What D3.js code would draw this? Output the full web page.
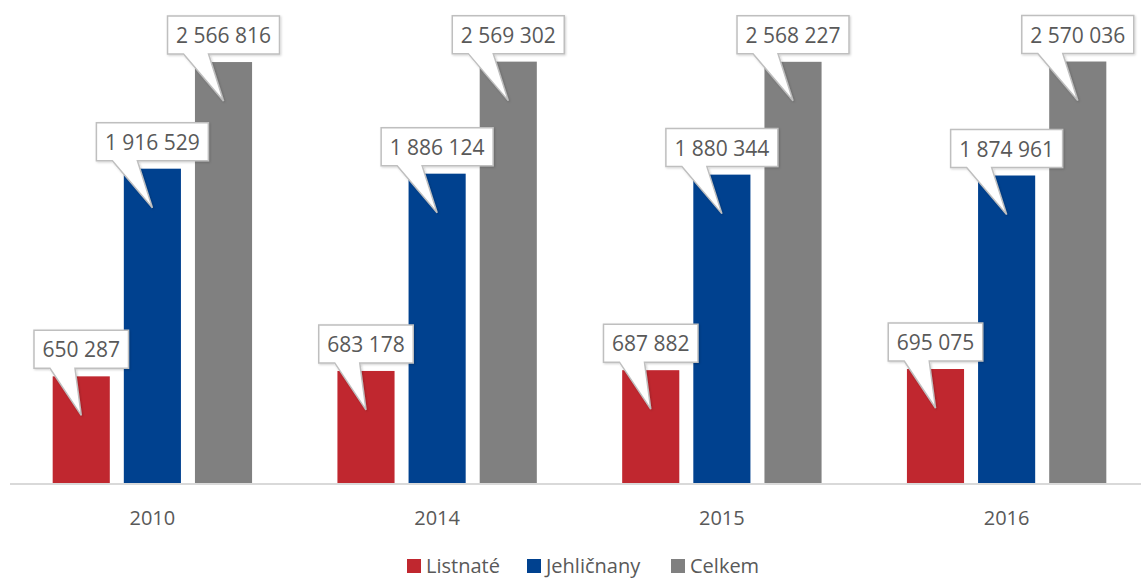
<!DOCTYPE html>
<html>
<head>
<meta charset="utf-8">
<script src="https://cdn.jsdelivr.net/npm/d3@7"></script>
<style>
  body { margin: 0; background: #fff; }
  text { font-family: "Open Sans", sans-serif; fill: #595959; }
</style>
</head>
<body>
<script>
var years = ["2010", "2014", "2015", "2016"];
var seriesNames = ["Listnaté", "Jehličnany", "Celkem"];
var listnate = [650287, 683178, 687882, 695075];
var jehlicnany = [1916529, 1886124, 1880344, 1874961];
var celkem = [2566816, 2569302, 2568227, 2570036];
var colors = ["#c0272f", "#00418f", "#808080"];

var width = 1141, height = 578;
var seriesValues = [listnate, jehlicnany, celkem];

var svg = d3.select("body").append("svg")
  .attr("width", width)
  .attr("height", height);

var defs = svg.append("defs");
var shadow = defs.append("filter").attr("id", "shadow")
  .attr("x", "-20%").attr("y", "-20%").attr("width", "140%").attr("height", "160%");
shadow.append("feDropShadow")
  .attr("dx", 1).attr("dy", 1).attr("stdDeviation", 1)
  .attr("flood-color", "#000").attr("flood-opacity", 0.18);

var x0 = d3.scaleBand().domain(years).range([10, 1149]).paddingInner(0).paddingOuter(0);
var x1 = d3.scaleBand().domain(seriesNames).range([0, x0.bandwidth()])
  .paddingInner(0.197).paddingOuter(0.6);
var y = d3.scaleLinear().domain([0, 3000000]).range([483, -9]);

var fmt = function(v) { return d3.format(",")(v).replace(/,/g, " "); };

// bars
var groups = svg.selectAll("g.year")
  .data(years)
  .enter().append("g")
  .attr("class", "year")
  .attr("transform", function(d) { return "translate(" + x0(d) + ",0)"; });

groups.selectAll("rect")
  .data(function(d, i) {
    return seriesNames.map(function(s, j) { return { s: s, j: j, v: seriesValues[j][i] }; });
  })
  .enter().append("rect")
  .attr("x", function(d) { return x1(d.s); })
  .attr("y", function(d) { return y(d.v); })
  .attr("width", x1.bandwidth())
  .attr("height", function(d) { return y(0) - y(d.v); })
  .attr("fill", function(d) { return colors[d.j]; });

// axis line
svg.append("line")
  .attr("x1", 10).attr("x2", width)
  .attr("y1", y(0) + 1).attr("y2", y(0) + 1)
  .attr("stroke", "#d9d9d9").attr("stroke-width", 2);

// category labels
svg.selectAll("text.cat")
  .data(years)
  .enter().append("text")
  .attr("class", "cat")
  .attr("x", function(d) { return x0(d) + x0.bandwidth() / 2; })
  .attr("y", 525)
  .attr("text-anchor", "middle")
  .style("font-size", "20px")
  .text(function(d) { return d; });

// callout labels
var labels = groups.selectAll("g.callout")
  .data(function(d, i) {
    return seriesNames.map(function(s, j) { return { s: s, j: j, v: seriesValues[j][i] }; });
  })
  .enter().append("g")
  .attr("class", "callout");

labels.each(function(d) {
  var g = d3.select(this);
  var cx = x1(d.s) + x1.bandwidth() / 2;
  var top = y(d.v);
  var path = g.append("path");
  var t = g.append("text")
    .attr("x", cx)
    .attr("y", top - 19)
    .attr("text-anchor", "middle")
    .style("font-size", "21px")
    .text(fmt(d.v));
  var w = t.node().getComputedTextLength() + 17;
  var bh = 38;
  var bx = cx - w / 2, by = top - 8 - bh;
  var p = d3.path();
  p.moveTo(bx, by);
  p.lineTo(bx + w, by);
  p.lineTo(bx + w, by + bh);
  p.lineTo(bx + 41, by + bh);
  p.lineTo(cx, top + 39);
  p.lineTo(bx + 16, by + bh);
  p.lineTo(bx, by + bh);
  p.closePath();
  path.attr("d", p.toString())
    .attr("fill", "#fff")
    .attr("stroke", "#bfbfbf")
    .attr("stroke-width", 1.5)
    .attr("filter", "url(#shadow)");
});

// legend
var legendX = [407, 527, 671];
var legend = svg.selectAll("g.legend")
  .data(seriesNames)
  .enter().append("g")
  .attr("class", "legend")
  .attr("transform", function(d, i) { return "translate(" + legendX[i] + ",559)"; });

legend.append("rect")
  .attr("width", 14).attr("height", 14)
  .attr("fill", function(d, i) { return colors[i]; });

legend.append("text")
  .attr("x", 19)
  .attr("y", 14)
  .style("font-size", "20px")
  .text(function(d) { return d; });
</script>
</body>
</html>
